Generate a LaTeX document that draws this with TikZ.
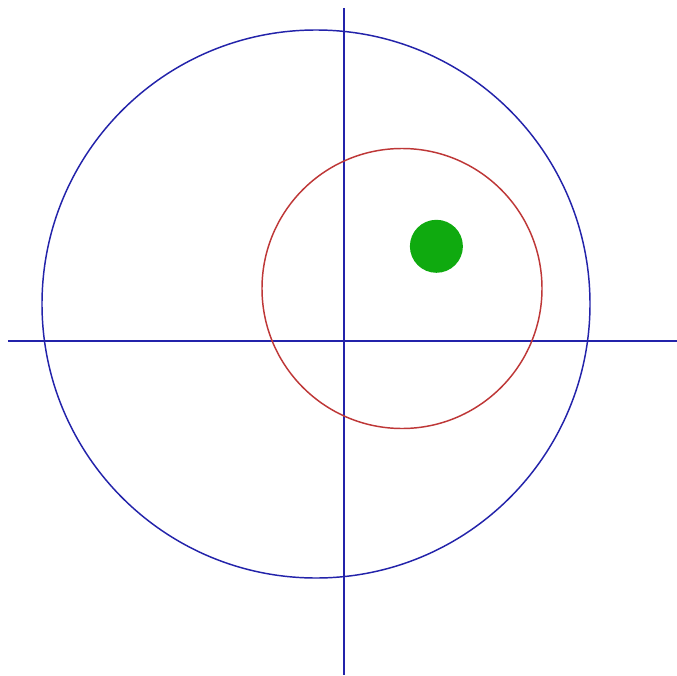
\documentclass[tikz,border=0pt]{standalone}
\definecolor{axisblue}{RGB}{35,35,170}
\definecolor{ringred}{RGB}{190,55,55}
\definecolor{dotgreen}{RGB}{15,170,15}
\begin{document}
\begin{tikzpicture}[x=0.75pt, y=0.75pt,
    axisline/.style={draw=axisblue, line width=1.5pt},
    bigring/.style={draw=axisblue, line width=1.1pt},
    smallring/.style={draw=ringred, line width=1.1pt}]
  \useasboundingbox[fill=white] (-344,-334) rectangle (333,341);
  \coordinate (O) at (0,0);
  \draw[axisline] (-336,0) -- (333,0);
  \draw[axisline] (0,333) -- (0,-334);
  \draw[bigring] (-28,37) circle (274);
  \draw[smallring] (58,52.5) circle (140);
  \fill[dotgreen] (92.4,94.7) circle (26.5);
\end{tikzpicture}
\end{document}
